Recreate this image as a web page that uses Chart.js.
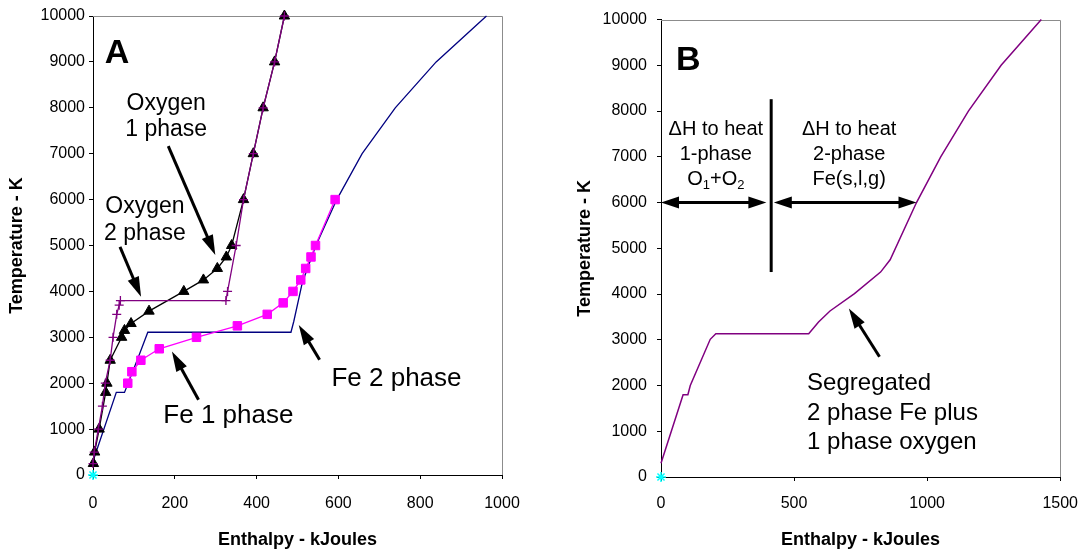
<!DOCTYPE html>
<html>
<head>
<meta charset="utf-8">
<script src="https://cdn.jsdelivr.net/npm/chart.js@4.4.0/dist/chart.umd.min.js"></script>
<style>
  html, body { margin: 0; padding: 0; background: #fff; overflow: hidden; }
  .panel { position: absolute; top: 0; height: 554px; }
  #panelA { left: 0; width: 545px; }
  #panelB { left: 545px; width: 546px; }
</style>
</head>
<body>
<div class="panel" id="panelA"><canvas id="chartA" width="545" height="554"></canvas></div>
<div class="panel" id="panelB"><canvas id="chartB" width="546" height="554"></canvas></div>
<script>
// Panel A: heating curves of each species on its own
const fe2Enthalpy = [0, 57, 77, 111, 134, 484, 491, 512, 545, 596, 658, 739, 839, 962];
const fe2Temp     = [300, 1800, 1800, 2570, 3110, 3110, 3350, 4200, 5000, 6000, 7000, 8000, 9000, 10000];

const fe1Enthalpy = [85, 95, 117, 162, 253, 353, 426, 465, 489, 508, 520, 533, 544, 592];
const fe1Temp     = [2000, 2250, 2500, 2750, 3000, 3250, 3500, 3750, 4000, 4250, 4500, 4750, 5000, 6000];

const ox1Enthalpy = [1, 4, 15, 31, 34, 42, 70, 77, 93, 137, 222, 270, 304, 326, 339, 368, 392, 416, 444, 468];
const ox1Temp     = [250, 500, 1000, 1800, 2000, 2500, 3000, 3150, 3300, 3570, 4000, 4250, 4500, 4750, 5000, 6000, 7000, 8000, 9000, 10000];

const ox2Enthalpy = [0, 3, 13, 23, 30, 42, 49, 58, 64, 67, 325, 329, 350, 368, 392, 416, 444, 468];
const ox2Temp     = [250, 500, 1000, 1500, 2000, 2500, 3000, 3500, 3700, 3800, 3800, 4000, 5000, 6000, 7000, 8000, 9000, 10000];

// Panel B: segregated system total
const segEnthalpy = [0, 83, 101, 110, 185, 206, 555, 592, 635, 727, 825, 861, 960, 1051, 1155, 1278, 1429];
const segTemp     = [300, 1800, 1800, 2000, 3010, 3130, 3130, 3390, 3630, 4010, 4480, 4750, 6000, 7000, 8000, 9000, 10000];

// axis ranges and tick steps
const tempRange = [0, 10000];
const tempStep = 1000;
const enthalpyRangeA = [0, 1000];
const enthalpyStepA = 200;
const enthalpyRangeB = [0, 1500];
const enthalpyStepB = 500;

const FAMILY = "'Liberation Sans', Arial, Helvetica, sans-serif";
const PURPLE = '#800080';
const NAVY = '#000080';
const MAGENTA = '#FF00FF';

const pts = (xs, ys) => xs.map((x, i) => ({ x: x, y: ys[i] }));

// grey frame on the top and right of the plot area
const framePlugin = {
    id: 'frame',
    beforeDatasetsDraw(chart) {
        const { ctx, chartArea: a } = chart;
        ctx.save();
        ctx.strokeStyle = '#8c8c8c';
        ctx.lineWidth = 1;
        ctx.beginPath();
        ctx.moveTo(a.left, Math.round(a.top) + 0.5);
        ctx.lineTo(Math.round(a.right) + 0.5, Math.round(a.top) + 0.5);
        ctx.lineTo(Math.round(a.right) + 0.5, a.bottom);
        ctx.stroke();
        ctx.restore();
    }
};

function arrowHead(ctx, x1, y1, x2, y2, len, half) {
    const ang = Math.atan2(y2 - y1, x2 - x1);
    const c = Math.cos(ang), s = Math.sin(ang);
    ctx.beginPath();
    ctx.moveTo(x2, y2);
    ctx.lineTo(x2 - len * c + half * s, y2 - len * s - half * c);
    ctx.lineTo(x2 - len * c - half * s, y2 - len * s + half * c);
    ctx.closePath();
    ctx.fill();
}

// text labels, arrows and marker lines placed in data units
function notesPlugin(notes) {
    return {
        id: 'notes',
        afterDatasetsDraw(chart) {
            const { ctx } = chart;
            const sx = chart.scales.x, sy = chart.scales.y;
            ctx.save();
            ctx.fillStyle = '#000';
            ctx.strokeStyle = '#000';

            (notes.lines || []).forEach(l => {
                ctx.lineWidth = l.width;
                ctx.beginPath();
                ctx.moveTo(sx.getPixelForValue(l.from[0]), sy.getPixelForValue(l.from[1]));
                ctx.lineTo(sx.getPixelForValue(l.to[0]), sy.getPixelForValue(l.to[1]));
                ctx.stroke();
            });

            (notes.arrows || []).forEach(ar => {
                const x1 = sx.getPixelForValue(ar.from[0]), y1 = sy.getPixelForValue(ar.from[1]);
                const x2 = sx.getPixelForValue(ar.to[0]), y2 = sy.getPixelForValue(ar.to[1]);
                const len = ar.head || 20, half = ar.half || 6;
                const d = Math.hypot(x2 - x1, y2 - y1);
                const ux = (x2 - x1) / d, uy = (y2 - y1) / d;
                const trimEnd = len * 0.8, trimStart = ar.both ? len * 0.8 : 0;
                ctx.lineWidth = ar.width || 3;
                ctx.beginPath();
                ctx.moveTo(x1 + ux * trimStart, y1 + uy * trimStart);
                ctx.lineTo(x2 - ux * trimEnd, y2 - uy * trimEnd);
                ctx.stroke();
                arrowHead(ctx, x1, y1, x2, y2, len, half);
                if (ar.both) arrowHead(ctx, x2, y2, x1, y1, len, half);
            });

            (notes.texts || []).forEach(t => {
                const px = sx.getPixelForValue(t.x), py = sy.getPixelForValue(t.y);
                const font = size => (t.bold ? 'bold ' : '') + size + 'px ' + FAMILY;
                const subSize = Math.round(t.size * 0.65);
                ctx.textAlign = 'left';
                ctx.textBaseline = 'alphabetic';
                t.lines.forEach((line, i) => {
                    const y = py + i * (t.step || 0);
                    const segs = typeof line === 'string' ? [[line, false]] : line;
                    let w = 0;
                    segs.forEach(([str, sub]) => {
                        ctx.font = font(sub ? subSize : t.size);
                        w += ctx.measureText(str).width;
                    });
                    let x = t.align === 'center' ? px - w / 2 : px;
                    segs.forEach(([str, sub]) => {
                        ctx.font = font(sub ? subSize : t.size);
                        ctx.fillText(str, x, sub ? y + t.size * 0.22 : y);
                        x += ctx.measureText(str).width;
                    });
                });
            });
            ctx.restore();
        }
    };
}

const notesA = {
    texts: [
        { x: 29, y: 8980, lines: ['A'], size: 34, bold: true },
        { x: 179, y: 7948, lines: ['Oxygen', '1 phase'], size: 23, step: 25.5, align: 'center' },
        { x: 127, y: 5701, lines: ['Oxygen', '2 phase'], size: 23, step: 26.5, align: 'center' },
        { x: 331, y: 1131, lines: ['Fe 1 phase'], size: 26, align: 'center' },
        { x: 742, y: 1943, lines: ['Fe 2 phase'], size: 26, align: 'center' }
    ],
    arrows: [
        { from: [184, 7165], to: [299, 4793] },
        { from: [66, 4971], to: [117.5, 3884] },
        { from: [258, 1638], to: [193, 2689] },
        { from: [554, 2509], to: [503, 3270] }
    ]
};

const notesB = {
    texts: [
        { x: 56, y: 8899, lines: ['B'], size: 34, bold: true },
        { x: 206, y: 7483, lines: ['\u0394H to heat', '1-phase', [['O', false], ['1', true], ['+O', false], ['2', true]]], size: 20, step: 25, align: 'center' },
        { x: 707, y: 7483, lines: ['\u0394H to heat', '2-phase', 'Fe(s,l,g)'], size: 20, step: 25, align: 'center' },
        { x: 549, y: 1903, lines: ['Segregated', '2 phase Fe plus', '1 phase oxygen'], size: 24, step: 29.7 }
    ],
    arrows: [
        { from: [0, 6000], to: [396, 6000], both: true, head: 18, half: 6 },
        { from: [424, 6000], to: [960, 6000], both: true, head: 18, half: 6 },
        { from: [821, 2629], to: [706, 3683] }
    ],
    lines: [
        { from: [414, 8260], to: [414, 4481], width: 3 }
    ]
};

const tickFont = { family: FAMILY, size: 16 };
const titleFont = { family: FAMILY, size: 18, weight: 'bold' };

function buildScales(cfg) {
    return {
        x: {
            type: 'linear',
            min: cfg.xRange[0], max: cfg.xRange[1],
            ticks: { stepSize: cfg.xStep, autoSkip: false, maxRotation: 0, color: '#000', font: tickFont, padding: cfg.xPad, callback: v => String(v) },
            grid: { drawOnChartArea: false, color: '#000', tickLength: 4 },
            border: { color: '#000', width: 1 },
            title: { display: true, text: 'Enthalpy - kJoules', color: '#000', font: titleFont, padding: { top: 0, bottom: 3 } },
            afterFit: s => { s.height = cfg.xHeight; }
        },
        y: {
            type: 'linear',
            min: tempRange[0], max: tempRange[1],
            ticks: { stepSize: tempStep, autoSkip: false, color: '#000', font: tickFont, padding: cfg.yPad, callback: v => String(v) },
            grid: { drawOnChartArea: false, color: '#000', tickLength: 4 },
            border: { color: '#000', width: 1 },
            title: { display: true, text: 'Temperature - K', color: '#000', font: titleFont, padding: { top: cfg.yTitlePad, bottom: 0 } },
            afterFit: s => { s.width = cfg.yWidth; }
        }
    };
}

const baseOptions = (scales, pad) => ({
    responsive: false,
    animation: false,
    events: [],
    layout: { padding: pad },
    plugins: { legend: { display: false }, tooltip: { enabled: false } },
    scales: scales
});

const originMark = {
    data: [{ x: 0, y: 0 }],
    showLine: false,
    pointStyle: 'star',
    pointRadius: 5,
    borderColor: '#00FFFF',
    borderWidth: 1.5,
    clip: false,
    order: 9
};

new Chart(document.getElementById('chartA'), {
    type: 'scatter',
    data: {
        datasets: [
            {
                label: 'Oxygen 2 phase',
                data: pts(ox2Enthalpy, ox2Temp),
                showLine: true,
                borderColor: PURPLE,
                backgroundColor: PURPLE,
                borderWidth: 1.3,
                pointStyle: 'cross',
                pointRadius: 4.5,
                pointBorderWidth: 1.3,
                clip: false,
                order: 0
            },
            {
                label: 'Oxygen 1 phase',
                data: pts(ox1Enthalpy, ox1Temp),
                showLine: true,
                borderColor: '#000',
                backgroundColor: '#000',
                borderWidth: 1.3,
                pointStyle: 'triangle',
                pointRadius: 6,
                pointBorderWidth: 1,
                clip: false,
                order: 1
            },
            {
                label: 'Fe 1 phase',
                data: pts(fe1Enthalpy, fe1Temp),
                showLine: true,
                borderColor: MAGENTA,
                backgroundColor: MAGENTA,
                borderWidth: 1.3,
                pointStyle: 'rect',
                pointRadius: 6,
                pointBorderWidth: 1,
                clip: false,
                order: 2
            },
            {
                label: 'Fe 2 phase',
                data: pts(fe2Enthalpy, fe2Temp),
                showLine: true,
                borderColor: NAVY,
                borderWidth: 1.3,
                pointRadius: 0,
                clip: false,
                order: 3
            },
            originMark
        ]
    },
    options: baseOptions(
        buildScales({ xRange: enthalpyRangeA, xStep: enthalpyStepA, xPad: 15, yPad: 4, xHeight: 79, yWidth: 93, yTitlePad: 6 }),
        { top: 16, right: 43, left: 0, bottom: 0 }
    ),
    plugins: [framePlugin, notesPlugin(notesA)]
});

new Chart(document.getElementById('chartB'), {
    type: 'scatter',
    data: {
        datasets: [
            {
                label: 'Segregated',
                data: pts(segEnthalpy, segTemp),
                showLine: true,
                borderColor: PURPLE,
                borderWidth: 1.5,
                pointRadius: 0,
                clip: false,
                order: 0
            },
            Object.assign({}, originMark, { data: [{ x: 0, y: 0 }] })
        ]
    },
    options: baseOptions(
        buildScales({ xRange: enthalpyRangeB, xStep: enthalpyStepB, xPad: 13, yPad: 10, xHeight: 77, yWidth: 116, yTitlePad: 29 }),
        { top: 18, right: 22, left: 0, bottom: 0 }
    ),
    plugins: [framePlugin, notesPlugin(notesB)]
});
</script>
</body>
</html>
